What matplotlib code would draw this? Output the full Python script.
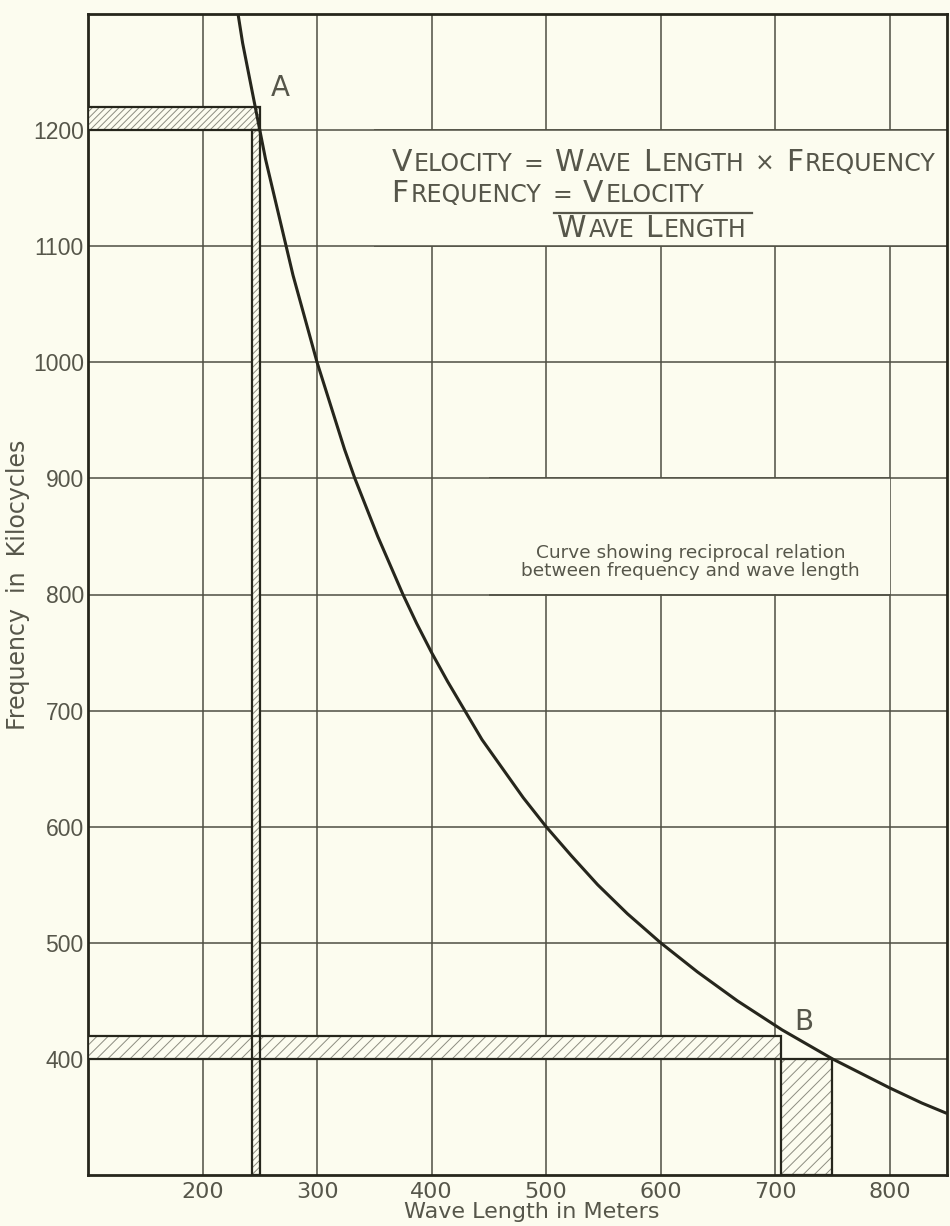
import matplotlib
matplotlib.use('Agg')
import matplotlib.pyplot as plt
from matplotlib.patches import Rectangle
from matplotlib.lines import Line2D
from matplotlib.transforms import IdentityTransform

# Reciprocal curve: wave length (meters) against frequency (kilocycles)
wave_length = [231, 235, 240, 245, 250, 255, 261, 267, 273, 279, 286, 293,
               300, 308, 316, 324, 333, 343, 353, 364, 375, 387, 400, 414,
               429, 444, 462, 480, 500, 522, 545, 571, 600, 632, 667, 706,
               750, 774, 800, 828, 850]
frequency = [1300, 1275, 1250, 1225, 1200, 1175, 1150, 1125, 1100, 1075,
             1050, 1025, 1000, 975, 950, 925, 900, 875, 850, 825, 800, 775,
             750, 725, 700, 675, 650, 625, 600, 575, 550, 525, 500, 475, 450,
             425, 400, 388, 375, 362, 353]

x_ticks = [200, 300, 400, 500, 600, 700, 800]
y_ticks = [400, 500, 600, 700, 800, 900, 1000, 1100, 1200]

# channel A: 1200-1220 kc spans 243-250 m
band_a_freq = [1200, 1220]
band_a_wave = [243, 250]
# channel B: 400-420 kc spans 705-750 m
band_b_freq = [400, 420]
band_b_wave = [705, 750]

BG = '#fcfcef'
INK = '#26261c'
GRID = '#4e4e42'
TXT = '#56564a'
HATCH = '#8c8c80'

plt.rcParams['hatch.linewidth'] = 0.7

fig = plt.figure(figsize=(9.5, 12.26), dpi=100, facecolor=BG)
ax = fig.add_axes([88 / 950, 51 / 1226, 859 / 950, 1161 / 1226])
ax.set_facecolor(BG)
ax.set_xlim(100, 850)
ax.set_ylim(300, 1300)
ax.set_xticks(x_ticks)
ax.set_yticks(y_ticks)
ax.set_axisbelow(True)
ax.grid(True, color=GRID, lw=1.1)
ax.tick_params(length=0, colors=TXT)
ax.tick_params(axis='x', pad=5, labelsize=16)
ax.tick_params(axis='y', pad=3, labelsize=16.5)
for lab in ax.get_xticklabels():
    lab.set_family('DejaVu Sans')
for lab in ax.get_yticklabels():
    lab.set_family('Liberation Sans')
for sp in ax.spines.values():
    sp.set_color(INK)
    sp.set_linewidth(2.0)

ax.set_xlabel('Wave Length in Meters', fontsize=16, color=TXT,
              family='DejaVu Sans')
ax.xaxis.set_label_coords(0.517, -0.023)
ax.set_ylabel('Frequency  in  Kilocycles', fontsize=17, color=TXT,
              family='DejaVu Sans')
ax.yaxis.set_label_coords(-0.068, 0.508)

# blank cells behind the lettering
ax.add_patch(Rectangle((350, 1100), 500, 100, facecolor=BG, lw=0, zorder=1))
ax.add_patch(Rectangle((450, 800), 350, 100, facecolor=BG, lw=0, zorder=1))
ax.hlines([1100, 1200], 350, 850, color=GRID, lw=1.1, zorder=1.2)
ax.hlines([800, 900], 450, 800, color=GRID, lw=1.1, zorder=1.2)


def hatched(x0, x1, y0, y1, hatch):
    ax.add_patch(Rectangle((x0, y0), x1 - x0, y1 - y0, facecolor=BG,
                           edgecolor=HATCH, hatch=hatch, lw=0, zorder=3))
    ax.add_patch(Rectangle((x0, y0), x1 - x0, y1 - y0, fill=False,
                           edgecolor=INK, lw=1.6, zorder=4))


# channel A: strip down to the axis, band across to the frequency axis
hatched(band_a_wave[0], band_a_wave[1], 300, band_a_freq[0], '/////')
hatched(100, band_a_wave[1], band_a_freq[0], band_a_freq[1], '/////')
# channel B
hatched(band_b_wave[0], band_b_wave[1], 300, band_b_freq[0], '///')
hatched(100, band_b_wave[0], band_b_freq[0], band_b_freq[1], '///')

ax.plot(wave_length, frequency, color=INK, lw=2.2, zorder=5,
        solid_capstyle='butt', solid_joinstyle='round')

ax.text(268, 1236, 'A', fontsize=20, color=TXT, ha='center', va='center',
        family='DejaVu Sans')
ax.text(725, 432, 'B', fontsize=20, color=TXT, ha='center', va='center',
        family='DejaVu Sans')

ax.text(626, 828, 'Curve showing reciprocal relation\n'
        'between frequency and wave length', fontsize=13.3, color=TXT,
        ha='center', va='center', multialignment='center',
        family='DejaVu Sans', linespacing=1.05)

# small-caps lettering for the formula, placed run by run in pixels
renderer = fig.canvas.get_renderer()


def caps_line(x, y, text, big=21.5, small=17, gap=9, center=None):
    x0, y0 = ax.transData.transform((x, y))
    pieces = []
    for i, word in enumerate(text.split()):
        if i:
            pieces.append((None, gap))
        if word[0].isalpha():
            pieces.append((word[0], big))
            if word[1:]:
                pieces.append((word[1:], small))
        else:
            pieces.append((word, small))
    arts = []
    cur = x0
    for s, size in pieces:
        if s is None:
            cur += size
            continue
        t = fig.text(cur, y0, s, transform=IdentityTransform(), fontsize=size,
                     va='baseline', ha='left', color=TXT,
                     family='DejaVu Sans')
        cur += t.get_window_extent(renderer).width + 2
        arts.append(t)
    if center is not None:
        shift = center - (x0 + cur) / 2
        for t in arts:
            px, py = t.get_position()
            t.set_position((px + shift, py))
        return x0 + shift, cur + shift, arts
    return x0, cur, arts


caps_line(365, 1165, 'VELOCITY = WAVE LENGTH \u00d7 FREQUENCY')
_, _, line2 = caps_line(365, 1138, 'FREQUENCY = VELOCITY')
v0 = line2[-2].get_window_extent(renderer).x0
v1 = line2[-1].get_window_extent(renderer).x1
l3a, l3b, _ = caps_line(365, 1108, 'WAVE LENGTH', center=(v0 + v1) / 2 + 9)
bar_y = ax.transData.transform((0, 1128.5))[1]
fig.add_artist(Line2D([l3a - 3, l3b + 3], [bar_y, bar_y], color=TXT, lw=1.6,
                      transform=IdentityTransform()))

fig.savefig('out.png', dpi=100, facecolor=BG)
